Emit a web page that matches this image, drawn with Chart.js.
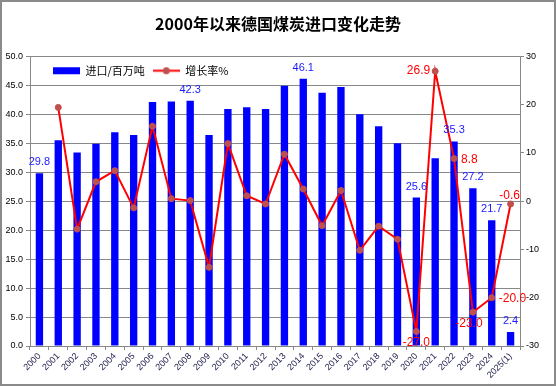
<!DOCTYPE html>
<html>
<head>
<meta charset="utf-8">
<script src="https://cdn.jsdelivr.net/npm/chart.js@4.4.1/dist/chart.umd.min.js"></script>
<style>
  html, body { margin: 0; padding: 0; background: #fff; }
  canvas { display: block; }
</style>
</head>
<body>
<canvas id="chart" width="556" height="386"></canvas>
<script>
const years = ['2000', '2001', '2002', '2003', '2004', '2005', '2006', '2007', '2008', '2009',
  '2010', '2011', '2012', '2013', '2014', '2015', '2016', '2017', '2018', '2019',
  '2020', '2021', '2022', '2023', '2024', '2025(1)'];
const imports = [29.8, 35.5, 33.4, 34.9, 36.9, 36.4, 42.1, 42.2, 42.3, 36.4,
  40.9, 41.2, 40.9, 44.9, 46.1, 43.7, 44.7, 40.0, 37.9, 35.0,
  25.6, 32.4, 35.3, 27.2, 21.7, 2.4];
const growth = [null, 19.4, -5.8, 4.0, 6.3, -1.4, 15.5, 0.5, 0.1, -13.7,
  11.9, 1.1, -0.6, 9.7, 2.5, -5.1, 2.2, -10.2, -5.2, -7.9,
  -27.0, 26.9, 8.8, -23.0, -20.0, -0.6];
// which points carry a value label
const importLabelIdx = [0, 8, 14, 20, 22, 23, 24, 25];
const growthLabelIdx = [20, 21, 22, 23, 24, 25];

// where each growth label sits relative to its point
const growthLabelPos = {
  20: { dx: 0, dy: 11, align: 'center' },
  21: { dx: -5, dy: 0, align: 'right' },
  22: { dx: 7, dy: 1, align: 'left' },
  23: { dx: -4, dy: 11, align: 'center' },
  24: { dx: 7, dy: 1, align: 'left' },
  25: { dx: -1, dy: -8, align: 'center' }
};

const CJK = '"Noto Sans CJK SC", "Liberation Sans", sans-serif';
const LAT = '"Liberation Sans", Arial, sans-serif';

// legend icon for the line series: line with a dot
const lineIcon = document.createElement('canvas');
lineIcon.width = 27;
lineIcon.height = 9;
const ic = lineIcon.getContext('2d');
ic.strokeStyle = '#ff0000';
ic.lineWidth = 2;
ic.beginPath();
ic.moveTo(0, 4.5);
ic.lineTo(27, 4.5);
ic.stroke();
ic.fillStyle = '#c0504d';
ic.beginPath();
ic.arc(13.5, 4.5, 3.5, 0, Math.PI * 2);
ic.fill();

const frame = {
  id: 'frame',
  beforeDraw(chart) {
    const ctx = chart.ctx;
    ctx.save();
    ctx.fillStyle = '#fff';
    ctx.fillRect(0, 0, chart.width, chart.height);
    ctx.restore();
  },
  afterDraw(chart) {
    const ctx = chart.ctx;
    ctx.save();
    ctx.strokeStyle = '#8a8a8a';
    ctx.lineWidth = 2;
    ctx.strokeRect(1, 1, chart.width - 2, chart.height - 2);
    ctx.restore();
  }
};

// move the legend down into the plot area
const legendShift = {
  id: 'legendShift',
  afterUpdate(chart) {
    const lg = chart.legend;
    lg.left += 45; lg.right += 45;
    lg.top += 30; lg.bottom += 30;
  }
};

const valueLabels = {
  id: 'valueLabels',
  afterDatasetsDraw(chart) {
    const ctx = chart.ctx;
    ctx.save();
    ctx.textBaseline = 'middle';

    const bars = chart.getDatasetMeta(0).data;
    ctx.font = '11px ' + LAT;
    ctx.fillStyle = '#1a1aff';
    ctx.textAlign = 'center';
    importLabelIdx.forEach(i => {
      const el = bars[i];
      ctx.fillText(imports[i].toFixed(1), el.x, el.y - 11);
    });

    const pts = chart.getDatasetMeta(1).data;
    ctx.font = '12px ' + LAT;
    ctx.fillStyle = '#ff0000';
    growthLabelIdx.forEach(i => {
      const el = pts[i];
      const p = growthLabelPos[i];
      ctx.textAlign = p.align;
      ctx.fillText(growth[i].toFixed(1), el.x + p.dx, el.y + p.dy);
    });
    ctx.restore();
  }
};

new Chart(document.getElementById('chart'), {
  data: {
    labels: years,
    datasets: [
      {
        type: 'bar',
        label: '进口/百万吨',
        data: imports,
        yAxisID: 'y',
        backgroundColor: '#0000ff',
        borderWidth: 0,
        barPercentage: 0.39,
        categoryPercentage: 1,
        order: 1
      },
      {
        type: 'line',
        label: '增长率%',
        data: growth,
        yAxisID: 'y1',
        borderColor: '#ff0000',
        borderWidth: 2,
        pointRadius: 3,
        pointBackgroundColor: '#c0504d',
        pointBorderColor: '#c0504d',
        pointBorderWidth: 1,
        tension: 0,
        order: 0
      }
    ]
  },
  options: {
    responsive: false,
    animation: false,
    layout: { padding: 0 },
    plugins: {
      title: {
        display: true,
        text: '2000年以来德国煤炭进口变化走势',
        color: '#000',
        font: { size: 16, weight: 'bold', family: CJK },
        padding: { top: 14, bottom: -6 }
      },
      legend: {
        position: 'top',
        align: 'start',
        labels: {
          usePointStyle: true,
          pointStyleWidth: 27,
          boxHeight: 7,
          padding: 8,
          color: '#000',
          font: { size: 11, family: CJK },
          generateLabels(chart) {
            const items = Chart.defaults.plugins.legend.labels.generateLabels(chart);
            items.sort((a, b) => a.datasetIndex - b.datasetIndex);
            items.forEach(it => {
              if (it.datasetIndex === 0) {
                it.pointStyle = 'rect';
                it.lineWidth = 0;
              } else {
                it.pointStyle = lineIcon;
              }
            });
            return items;
          }
        }
      },
      tooltip: { enabled: false }
    },
    scales: {
      x: {
        afterFit(s) { s.height = 40; },
        grid: { offset: true, drawOnChartArea: false, drawTicks: true, tickLength: 4, color: '#888' },
        border: { color: '#888' },
        ticks: {
          autoSkip: false,
          maxRotation: 45,
          minRotation: 45,
          padding: 1,
          color: '#1c1c4a',
          font: { size: 9, family: LAT }
        }
      },
      y: {
        position: 'left',
        min: 0,
        max: 50,
        afterFit(s) { s.width = 30; },
        grid: { color: '#888', tickLength: 4 },
        border: { color: '#888' },
        ticks: {
          stepSize: 5,
          padding: 3,
          color: '#000',
          font: { size: 9, family: LAT },
          callback: v => v.toFixed(1)
        }
      },
      y1: {
        position: 'right',
        min: -30,
        max: 30,
        afterFit(s) { s.width = 36; },
        grid: { drawOnChartArea: false, tickLength: 4, color: '#888' },
        border: { color: '#888' },
        ticks: {
          stepSize: 10,
          padding: 2,
          color: '#000',
          font: { size: 9, family: LAT }
        }
      }
    }
  },
  plugins: [frame, legendShift, valueLabels]
});
</script>
</body>
</html>
